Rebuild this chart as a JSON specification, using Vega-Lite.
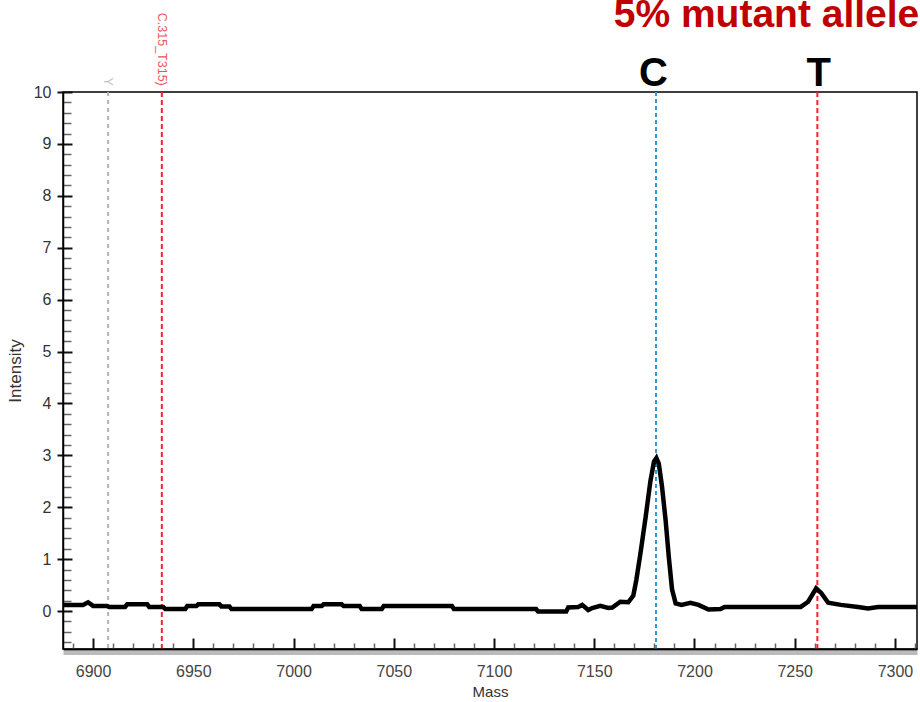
{
  "$schema": "https://vega.github.io/schema/vega-lite/v6.json",
  "width": 854,
  "height": 557,
  "autosize": {"type": "none"},
  "padding": {"left": 63, "top": 92, "right": 3, "bottom": 53},
  "background": "white",
  "config": {
    "view": {"stroke": "#000000", "strokeWidth": 1.5},
    "font": "Liberation Sans",
    "axis": {"grid": false, "labelFont": "Liberation Sans", "titleFont": "Liberation Sans"}
  },
  "datasets": {
    "spectrum": [
      {"mass": 6885, "intensity": 0.12}, {"mass": 6895, "intensity": 0.12}, {"mass": 6897.5, "intensity": 0.17},
      {"mass": 6900, "intensity": 0.1}, {"mass": 6907, "intensity": 0.1}, {"mass": 6908, "intensity": 0.08},
      {"mass": 6916, "intensity": 0.08}, {"mass": 6917, "intensity": 0.13}, {"mass": 6927, "intensity": 0.13},
      {"mass": 6928, "intensity": 0.08}, {"mass": 6935, "intensity": 0.08}, {"mass": 6936, "intensity": 0.04},
      {"mass": 6946, "intensity": 0.04}, {"mass": 6947, "intensity": 0.1}, {"mass": 6951.5, "intensity": 0.1},
      {"mass": 6952.5, "intensity": 0.13}, {"mass": 6963, "intensity": 0.13}, {"mass": 6964, "intensity": 0.09},
      {"mass": 6968, "intensity": 0.09}, {"mass": 6969, "intensity": 0.04}, {"mass": 7009, "intensity": 0.04},
      {"mass": 7010, "intensity": 0.1}, {"mass": 7014, "intensity": 0.1}, {"mass": 7015, "intensity": 0.13},
      {"mass": 7024, "intensity": 0.13}, {"mass": 7025, "intensity": 0.1}, {"mass": 7033, "intensity": 0.1},
      {"mass": 7034, "intensity": 0.04}, {"mass": 7044, "intensity": 0.04}, {"mass": 7045, "intensity": 0.1},
      {"mass": 7079, "intensity": 0.1}, {"mass": 7080, "intensity": 0.04}, {"mass": 7121, "intensity": 0.04},
      {"mass": 7122, "intensity": -0.01}, {"mass": 7136, "intensity": -0.01}, {"mass": 7137, "intensity": 0.07},
      {"mass": 7142, "intensity": 0.08}, {"mass": 7144, "intensity": 0.12}, {"mass": 7147, "intensity": 0.02},
      {"mass": 7149, "intensity": 0.06}, {"mass": 7153, "intensity": 0.1}, {"mass": 7157, "intensity": 0.06},
      {"mass": 7159, "intensity": 0.07}, {"mass": 7163, "intensity": 0.18}, {"mass": 7167, "intensity": 0.17},
      {"mass": 7169.5, "intensity": 0.3}, {"mass": 7171, "intensity": 0.6}, {"mass": 7173, "intensity": 1.1},
      {"mass": 7175.6, "intensity": 1.8}, {"mass": 7178, "intensity": 2.5}, {"mass": 7179.8, "intensity": 2.88},
      {"mass": 7181, "intensity": 2.95}, {"mass": 7182.2, "intensity": 2.84}, {"mass": 7183.8, "intensity": 2.4},
      {"mass": 7185.6, "intensity": 1.75}, {"mass": 7187.2, "intensity": 1.04}, {"mass": 7188.8, "intensity": 0.42},
      {"mass": 7190.6, "intensity": 0.15}, {"mass": 7193.5, "intensity": 0.12}, {"mass": 7198, "intensity": 0.16},
      {"mass": 7202, "intensity": 0.12}, {"mass": 7207, "intensity": 0.03}, {"mass": 7213, "intensity": 0.04},
      {"mass": 7215, "intensity": 0.08}, {"mass": 7253, "intensity": 0.08}, {"mass": 7256.7, "intensity": 0.18},
      {"mass": 7260.7, "intensity": 0.44}, {"mass": 7263.2, "intensity": 0.35}, {"mass": 7266.7, "intensity": 0.16},
      {"mass": 7273, "intensity": 0.12}, {"mass": 7281.6, "intensity": 0.08}, {"mass": 7286.6, "intensity": 0.05},
      {"mass": 7291.6, "intensity": 0.08}, {"mass": 7311, "intensity": 0.08}
    ],
    "markers": [
      {"mass": 6907.5, "kind": "ref"},
      {"mass": 6934.3, "kind": "red"},
      {"mass": 7180.8, "kind": "blue"},
      {"mass": 7261.3, "kind": "red"}
    ],
    "smallLabels": [
      {"mass": 6907.5, "intensity": 10.12, "label": "Y", "kind": "ref"},
      {"mass": 6934.3, "intensity": 10.12, "label": "C.315_T315)", "kind": "red"}
    ],
    "alleles": [
      {"mass": 7179.5, "intensity": 10.12, "label": "C"},
      {"mass": 7262, "intensity": 10.12, "label": "T"}
    ],
    "headline": [
      {"mass": 7159.7, "intensity": 11.25, "label": "5% mutant allele"}
    ]
  },
  "resolve": {"axis": {"x": "independent", "y": "independent"}},
  "layer": [
    {
      "data": {"name": "markers"},
      "mark": {"type": "rule", "strokeWidth": 2},
      "encoding": {
        "x": {
          "field": "mass", "type": "quantitative",
          "scale": {"domain": [6885, 7311], "nice": false, "zero": false},
          "axis": {"orient": "bottom", "title": null, "labels": false, "ticks": false, "domain": true,
                   "domainColor": "#bbbbbb", "domainWidth": 4, "offset": 3.5}
        },
        "color": {"field": "kind", "type": "nominal", "legend": null,
                  "scale": {"domain": ["ref", "red", "blue"], "range": ["#b4b4b4", "#e42a32", "#3399d6"]}},
        "strokeDash": {"field": "kind", "type": "nominal", "legend": null,
                       "scale": {"domain": ["ref", "red", "blue"], "range": [[4, 4], [5, 3], [4, 3]]}}
      }
    },
    {
      "data": {"name": "spectrum"},
      "mark": {"type": "line", "color": "#000000", "strokeWidth": 4.5, "strokeJoin": "miter"},
      "encoding": {
        "x": {
          "field": "mass", "type": "quantitative",
          "scale": {"domain": [6885, 7311], "nice": false, "zero": false},
          "axis": {"orient": "bottom", "title": "Mass", "titleFontSize": 15, "titleFontWeight": "normal", "titleColor": "#333333", "titlePadding": 5,
                   "values": [6900, 6950, 7000, 7050, 7100, 7150, 7200, 7250, 7300], "format": "d",
                   "labelFontSize": 16, "labelColor": "#444444", "labelPadding": 14, "ticks": false,
                   "domainColor": "#000000", "domainWidth": 2, "zindex": 1}
        },
        "y": {
          "field": "intensity", "type": "quantitative",
          "scale": {"domain": [-0.73, 10], "nice": false, "zero": false},
          "axis": {"orient": "left", "title": "Intensity", "titleFontSize": 17, "titleFontWeight": "normal", "titleColor": "#333333", "titlePadding": 9,
                   "values": [0,1,2,3,4,5,6,7,8,9,10], "format": "d",
                   "labelFontSize": 16, "labelColor": "#333333", "labelPadding": 6,
                   "tickSize": 6, "tickWidth": 2, "tickColor": "#111111",
                   "domainColor": "#000000", "domainWidth": 1.5, "zindex": 1}
        }
      }
    },
    {
      "data": {"name": "alleles"},
      "mark": {"type": "text", "fontSize": 40, "fontWeight": "bold", "color": "#000000", "align": "center", "baseline": "alphabetic", "font": "Liberation Sans"},
      "encoding": {
        "x": {"field": "mass", "type": "quantitative",
              "axis": {"orient": "bottom", "title": null, "labels": false, "domain": false, "offset": -11,
                       "values": [6900, 6950, 7000, 7050, 7100, 7150, 7200, 7250, 7300],
                       "tickSize": 11, "tickWidth": 2, "tickColor": "#111111"}},
        "y": {"field": "intensity", "type": "quantitative",
              "axis": {"orient": "left", "title": null, "labels": false, "domain": false, "offset": -9,
                       "values": [0,1,2,3,4,5,6,7,8,9,10], "tickSize": 9, "tickWidth": 2, "tickColor": "#111111"}},
        "text": {"field": "label"}
      }
    },
    {
      "data": {"name": "headline"},
      "mark": {"type": "text", "fontSize": 39, "fontWeight": "bold", "color": "#c00000", "align": "left", "baseline": "alphabetic", "font": "Liberation Sans"},
      "encoding": {
        "x": {"field": "mass", "type": "quantitative",
              "axis": {"orient": "bottom", "title": null, "labels": false, "domain": false, "offset": -6,
                       "values": [6890,6910,6920,6930,6940,6960,6970,6980,6990,7010,7020,7030,7040,7060,7070,7080,7090,7110,7120,7130,7140,7160,7170,7180,7190,7210,7220,7230,7240,7260,7270,7280,7290,7310],
                       "tickSize": 6, "tickWidth": 1.5, "tickColor": "#666666"}},
        "y": {"field": "intensity", "type": "quantitative",
              "axis": {"orient": "left", "title": null, "labels": false, "domain": false, "offset": -8,
                       "values": [-0.6,-0.4,-0.2,0.2,0.4,0.6,0.8,1.2,1.4,1.6,1.8,2.2,2.4,2.6,2.8,3.2,3.4,3.6,3.8,4.2,4.4,4.6,4.8,5.2,5.4,5.6,5.8,6.2,6.4,6.6,6.8,7.2,7.4,7.6,7.8,8.2,8.4,8.6,8.8,9.2,9.4,9.6,9.8],
                       "tickSize": 8, "tickWidth": 1.5, "tickColor": "#666666"}},
        "text": {"field": "label"}
      }
    },
    {
      "data": {"name": "smallLabels"},
      "mark": {"type": "text", "fontSize": 12.5, "angle": 90, "align": "right", "baseline": "middle", "font": "Liberation Sans", "opacity": 0.8},
      "encoding": {
        "x": {"field": "mass", "type": "quantitative", "axis": null},
        "y": {"field": "intensity", "type": "quantitative", "axis": null},
        "text": {"field": "label"},
        "color": {"field": "kind", "type": "nominal", "legend": null,
                  "scale": {"domain": ["ref", "red", "blue"], "range": ["#b4b4b4", "#e42a32", "#3399d6"]}}
      }
    }
  ]
}
